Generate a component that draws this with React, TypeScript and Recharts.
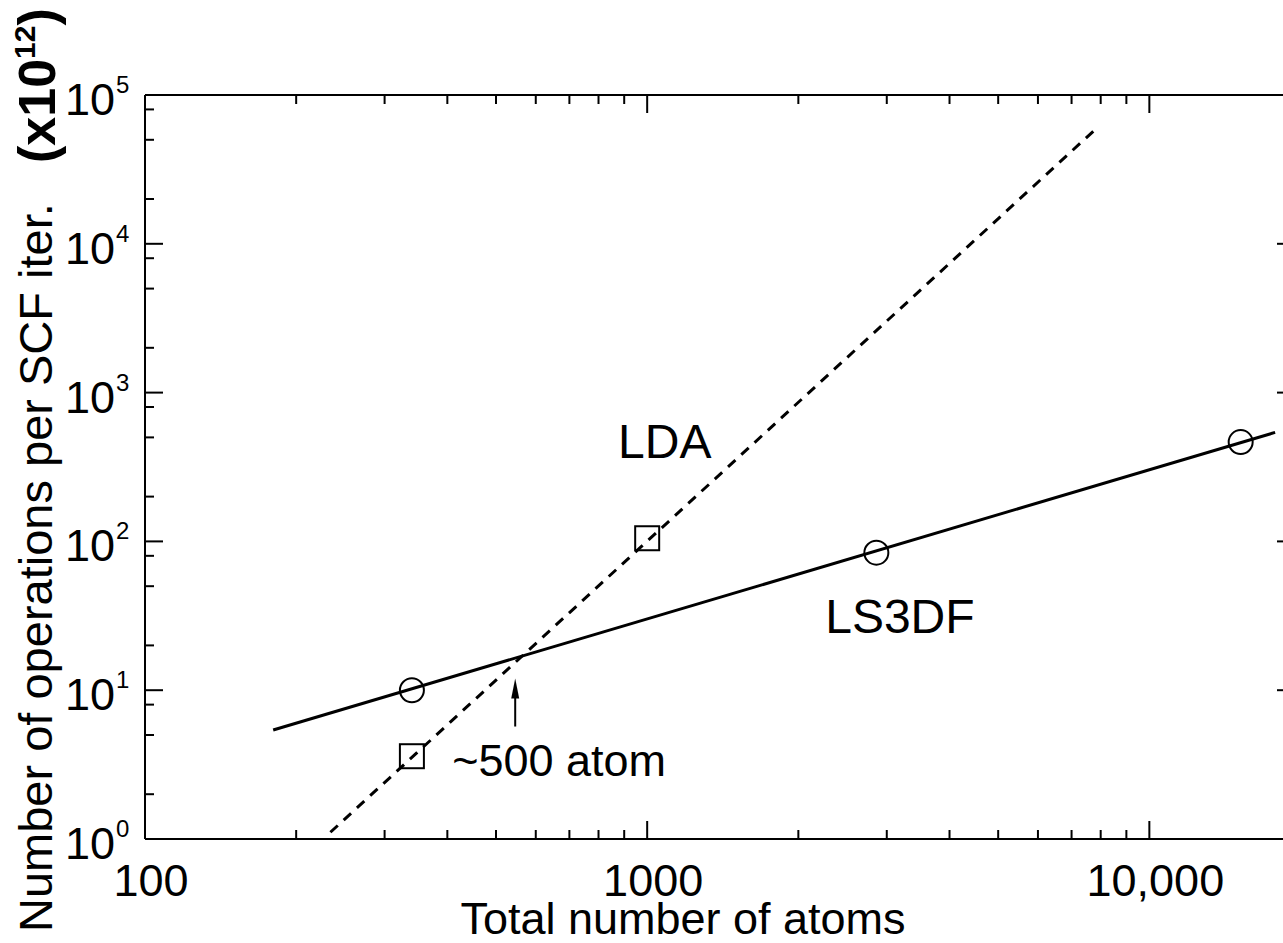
import React from "react";
import {
  ComposedChart,
  Line,
  Scatter,
  XAxis,
  YAxis,
  ReferenceDot,
  ReferenceLine,
} from "recharts";

const FONT = '"Liberation Sans", Arial, Helvetica, sans-serif';

// measured points (atoms, ops per SCF iteration in units of 10^12)
const ls3dfPoints = [
  { x: 340, y: 10 },
  { x: 2860, y: 84 },
  { x: 15200, y: 465 },
];
const ldaPoints = [
  { x: 340, y: 3.6 },
  { x: 1000, y: 105 },
];

// fitted scaling lines
const ls3dfFit = [
  { x: 180, y: 5.4 },
  { x: 17800, y: 540 },
];
const ldaFit = [
  { x: 234, y: 1.11 },
  { x: 7940, y: 61900 },
];

// crossover arrow (~500 atoms)
const crossArrow = [
  { x: 546, y: 5.7 },
  { x: 546, y: 12 },
];

const xMajor = [100, 1000, 10000];
const xMinor = [
  200, 300, 400, 500, 600, 700, 800, 900, 2000, 3000, 4000, 5000, 6000, 7000,
  8000, 9000,
];
const xTickLabels: Record<number, string> = {
  100: "100",
  1000: "1000",
  10000: "10,000",
};

const yMajor = [1, 10, 100, 1000, 10000, 100000];
const yMinor = [
  2, 5, 8, 20, 50, 80, 200, 500, 800, 2000, 5000, 8000, 20000, 50000, 80000,
];

const xDomain = [100, 19500];
const yDomain = [1, 100000];

const BottomTick = ({ x, y, payload }: any) => {
  const major = xMajor.includes(payload.value);
  return (
    <g>
      <line x1={x} x2={x} y1={y} y2={y - (major ? 18 : 9)} stroke="#000" strokeWidth={2} />
      {major && (
        <text
          x={x + 6}
          y={y + 57}
          textAnchor="middle"
          fontSize={45}
          fontFamily={FONT}
          fill="#000"
        >
          {xTickLabels[payload.value]}
        </text>
      )}
    </g>
  );
};

const TopTick = ({ x, y, payload }: any) => {
  const major = xMajor.includes(payload.value);
  return <line x1={x} x2={x} y1={y} y2={y + (major ? 18 : 9)} stroke="#000" strokeWidth={2} />;
};

const LeftTick = ({ x, y, payload }: any) => {
  const major = yMajor.includes(payload.value);
  const exp = Math.round(Math.log10(payload.value));
  return (
    <g>
      <line x1={x} x2={x + (major ? 18 : 9)} y1={y} y2={y} stroke="#000" strokeWidth={2} />
      {major && (
        <g fontFamily={FONT} fill="#000">
          <text x={x - 30} y={y + 20} textAnchor="end" fontSize={45}>
            10
          </text>
          <text x={x - 29} y={y - 2} textAnchor="start" fontSize={24}>
            {exp}
          </text>
        </g>
      )}
    </g>
  );
};

const RightTick = ({ x, y, payload }: any) => {
  const major = yMajor.includes(payload.value);
  return <line x1={x} x2={x - (major ? 18 : 9)} y1={y} y2={y} stroke="#000" strokeWidth={2} />;
};

const XTitle = () => (
  <text x={683} y={934} textAnchor="middle" fontSize={45} fontFamily={FONT} fill="#000">
    Total number of atoms
  </text>
);

const YTitle = () => (
  <g fontFamily={FONT} fill="#000">
    <text transform="translate(52,932) rotate(-90)" fontSize={47}>
      Number of operations per SCF iter.
    </text>
    <text transform="translate(55,163) rotate(-90)" fontSize={52} fontWeight="bold">
      (x10
      <tspan fontSize={30} dy={-20}>
        12
      </tspan>
      <tspan fontSize={52} dy={20}>
        )
      </tspan>
    </text>
  </g>
);

const textShape = (label: string, size: number) => (props: any) => (
  <text x={props.cx} y={props.cy} fontSize={size} fontFamily={FONT} fill="#000">
    {label}
  </text>
);

const Arrow = (props: any) => {
  const { x1, y1, x2, y2 } = props;
  const top = Math.min(y1, y2);
  const bottom = Math.max(y1, y2);
  return (
    <g>
      <line x1={x1} x2={x2} y1={bottom} y2={top + 10} stroke="#000" strokeWidth={2} />
      <path d={`M${x1},${top} L${x1 - 4},${top + 20} L${x1 + 4},${top + 20} Z`} fill="#000" />
    </g>
  );
};

const CircleMark = (props: any) => (
  <circle cx={props.cx} cy={props.cy} r={12} fill="none" stroke="#000" strokeWidth={2} />
);

const SquareMark = (props: any) => (
  <rect
    x={props.cx - 12}
    y={props.cy - 12}
    width={24}
    height={24}
    fill="none"
    stroke="#000"
    strokeWidth={2}
  />
);

export default function App() {
  return (
    <div
      style={{
        position: "absolute",
        left: 0,
        top: 0,
        width: 1283,
        height: 943,
        overflow: "hidden",
        background: "#fff",
      }}
    >
      <ComposedChart
        width={1300}
        height={943}
        margin={{ top: 94, right: 4, bottom: 0, left: 0 }}
      >
        <XAxis
          dataKey="x"
          type="number"
          scale="log"
          domain={xDomain}
          allowDataOverflow
          ticks={[...xMajor, ...xMinor]}
          interval={0}
          height={104}
          tickSize={0}
          tickMargin={0}
          tickLine={false}
          tick={<BottomTick />}
          axisLine={{ stroke: "#000", strokeWidth: 2 }}
          label={{ content: <XTitle /> }}
        />
        <XAxis
          xAxisId="top"
          orientation="top"
          dataKey="x"
          type="number"
          scale="log"
          domain={xDomain}
          allowDataOverflow
          ticks={[...xMajor, ...xMinor]}
          interval={0}
          height={1}
          tickSize={0}
          tickMargin={0}
          tickLine={false}
          tick={<TopTick />}
          axisLine={{ stroke: "#000", strokeWidth: 2 }}
        />
        <YAxis
          dataKey="y"
          type="number"
          scale="log"
          domain={yDomain}
          allowDataOverflow
          ticks={[...yMajor, ...yMinor]}
          interval={0}
          width={145}
          tickSize={0}
          tickMargin={0}
          tickLine={false}
          tick={<LeftTick />}
          axisLine={{ stroke: "#000", strokeWidth: 2 }}
          label={{ content: <YTitle /> }}
        />
        <YAxis
          yAxisId="right"
          orientation="right"
          dataKey="y"
          type="number"
          scale="log"
          domain={yDomain}
          allowDataOverflow
          ticks={[...yMajor, ...yMinor]}
          interval={0}
          width={1}
          tickSize={0}
          tickMargin={0}
          tickLine={false}
          tick={<RightTick />}
          axisLine={{ stroke: "#000", strokeWidth: 2 }}
        />

        <Line
          data={ldaFit}
          dataKey="y"
          type="linear"
          stroke="#000"
          strokeWidth={3}
          strokeDasharray="10 8"
          dot={false}
          activeDot={false}
          isAnimationActive={false}
        />
        <Line
          data={ls3dfFit}
          dataKey="y"
          type="linear"
          stroke="#000"
          strokeWidth={3}
          dot={false}
          activeDot={false}
          isAnimationActive={false}
        />
        <Scatter data={ls3dfPoints} shape={<CircleMark />} isAnimationActive={false} />
        <Scatter data={ldaPoints} shape={<SquareMark />} isAnimationActive={false} />

        <ReferenceLine segment={crossArrow} shape={<Arrow />} />
        <ReferenceDot x={875} y={366} r={0} shape={textShape("LDA", 48)} />
        <ReferenceDot x={2262} y={24.1} r={0} shape={textShape("LS3DF", 48)} />
        <ReferenceDot x={409} y={2.65} r={0} shape={textShape("~500 atom", 45)} />
      </ComposedChart>
    </div>
  );
}
